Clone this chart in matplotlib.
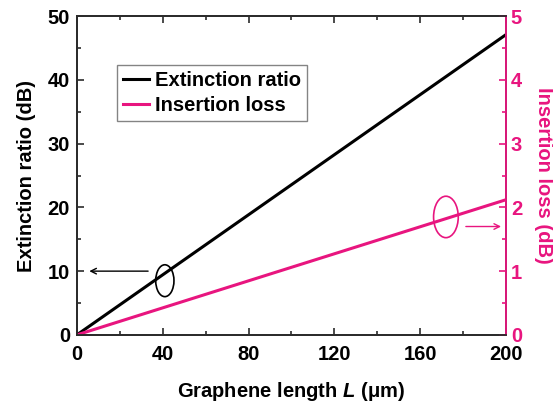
import matplotlib
matplotlib.use("Agg")
import matplotlib.pyplot as plt
from matplotlib.patches import Ellipse
from matplotlib.ticker import MultipleLocator

plt.rcParams['font.family'] = ['Liberation Sans', 'DejaVu Sans']
plt.rcParams['font.weight'] = 'bold'
plt.rcParams['mathtext.fontset'] = 'custom'
plt.rcParams['mathtext.it'] = 'Liberation Sans:italic:bold'
plt.rcParams['mathtext.rm'] = 'Liberation Sans:bold'

PINK = '#e8157f'
DARK = '#2b2b2b'
FS = 14.5

# Graphene length (um) and the two figures of merit
length_um = [0, 200]
extinction_db = [0, 47.1]
insertion_db = [0, 2.12]

fig = plt.figure(figsize=(5.53, 4.03), dpi=100)
ax = fig.add_axes([0.139, 0.169, 0.776, 0.791])
ax2 = ax.twinx()

l1, = ax.plot(length_um, extinction_db, color='black', lw=2.2, label='Extinction ratio')
l2, = ax2.plot(length_um, insertion_db, color=PINK, lw=2.2, label='Insertion loss')

ax.set_xlim(0, 200)
ax.set_ylim(0, 50)
ax2.set_ylim(0, 5)

ax.xaxis.set_major_locator(MultipleLocator(40))
ax.xaxis.set_minor_locator(MultipleLocator(20))
ax.yaxis.set_major_locator(MultipleLocator(10))
ax.yaxis.set_minor_locator(MultipleLocator(5))
ax2.yaxis.set_major_locator(MultipleLocator(1))
ax2.yaxis.set_minor_locator(MultipleLocator(0.5))

for a in (ax, ax2):
    for s in a.spines.values():
        s.set_linewidth(1.3)
        s.set_color(DARK)
ax2.spines['right'].set_color(PINK)

ax.tick_params(axis='both', which='both', direction='in', top=True, right=False,
               colors=DARK, labelsize=FS, width=1.2)
ax.tick_params(which='major', length=5)
ax.tick_params(which='minor', length=3)
ax.tick_params(axis='x', pad=7)
ax.tick_params(axis='y', pad=5)
ax2.tick_params(axis='y', which='both', direction='in', colors=PINK, labelsize=FS, width=1.2)
ax2.tick_params(which='major', length=5)
ax2.tick_params(which='minor', length=3)
for lab in ax.get_xticklabels() + ax.get_yticklabels():
    lab.set_color('black')
    lab.set_fontweight('bold')
for lab in ax2.get_yticklabels():
    lab.set_fontweight('bold')

ax.set_xlabel(r'Graphene length $L$ (μm)', fontsize=FS, fontweight='bold', labelpad=12)
ax.set_ylabel('Extinction ratio (dB)', fontsize=FS, fontweight='bold', labelpad=8)
ax2.set_ylabel('Insertion loss (dB)', fontsize=FS, fontweight='bold', color=PINK,
               rotation=270, labelpad=22)

leg = ax.legend(handles=[l1, l2], loc='upper left', bbox_to_anchor=(0.093, 0.846),
                borderaxespad=0, fontsize=FS, frameon=True, fancybox=False,
                edgecolor='#666666', handlelength=1.3, handletextpad=0.3,
                borderpad=0.3, labelspacing=0.3)
leg.get_frame().set_linewidth(1.0)
for t in leg.get_texts():
    t.set_fontweight('bold')

# Markers pointing each curve to its axis
ax.add_patch(Ellipse((41, 8.5), 8.5, 5.0, fill=False, edgecolor='black', lw=1.2))
ax.annotate('', xy=(4.5, 10), xytext=(34.5, 10),
            arrowprops=dict(arrowstyle='->', color='black', lw=1.0))
ax.add_patch(Ellipse((172, 18.5), 11.5, 6.5, fill=False, edgecolor=PINK, lw=1.2))
ax.annotate('', xy=(199, 17.0), xytext=(180, 17.0),
            arrowprops=dict(arrowstyle='->', color=PINK, lw=1.0))

fig.savefig('out.png', dpi=100)
